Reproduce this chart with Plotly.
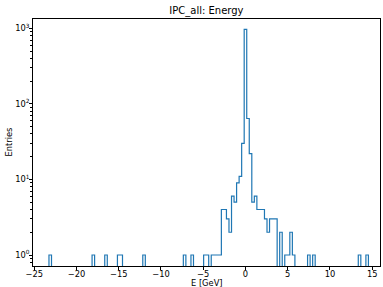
import plotly.graph_objects as go

# ---- data ----
bin_start = -23.25      # left edge of first bin [GeV]
bin_width = 0.3         # [GeV]
n_bins = 126
bin_index = [0, 17, 22, 27, 28, 37, 53, 56, 61, 62, 64, 65, 66, 67, 68, 69, 70, 71,
             72, 73, 74, 75, 76, 77, 78, 79, 80, 81, 82, 83, 84, 85, 86, 87, 88, 89,
             91, 93, 94, 95, 96, 102, 104, 122, 125]
bin_count = [1, 1, 1, 1, 1, 1, 1, 1, 1, 1, 1, 1, 1, 1, 4, 4, 3, 2,
             6, 5, 9, 11, 30, 967, 64, 22, 5, 6, 4, 4, 4, 3, 2, 3, 3, 3,
             2, 1, 1, 2, 1, 1, 1, 1, 1]

x_tick_vals = [-25, -20, -15, -10, -5, 0, 5, 10, 15]
x_tick_text = ["\u221225", "\u221220", "\u221215", "\u221210", "\u22125", "0", "5", "10", "15"]
y_tick_vals = [1, 10, 100, 1000]
y_tick_text = ["10<sup>0</sup>", "10<sup>1</sup>", "10<sup>2</sup>", "10<sup>3</sup>"]

# ---- build step outline ----
counts = [0] * n_bins
for i, c in zip(bin_index, bin_count):
    counts[i] = c
edges = [bin_start + k * bin_width for k in range(n_bins + 1)]
floor_val = 1e-3  # empty bins drop below the visible range (log axis)
ys_counts = [c if c > 0 else floor_val for c in counts]
xs = [edges[0]] + edges[:n_bins] + [edges[n_bins]]
ys = [floor_val] + ys_counts + [floor_val]

fig = go.Figure()
fig.add_trace(go.Scatter(x=xs, y=ys, mode="lines",
                         line=dict(shape="hv", color="#1f77b4", width=1.2),
                         hoverinfo="skip", showlegend=False))

font = "DejaVu Sans"
axis_common = dict(showline=True, linecolor="black", linewidth=0.8, mirror=True,
                   ticks="outside", ticklen=3, tickwidth=0.8, tickcolor="black",
                   showgrid=False, zeroline=False, automargin=False,
                   tickfont=dict(family=font, size=8.3, color="black"))

fig.update_layout(
    width=383, height=287,
    margin=dict(l=33, r=3, t=19, b=21),
    paper_bgcolor="white", plot_bgcolor="white",
    title=dict(text="IPC_all: Energy", x=0.539, xanchor="center", y=0.962, yanchor="middle",
               font=dict(family=font, size=10, color="black")),
    xaxis=dict(range=[-25.14, 15.92], tickmode="array", tickvals=x_tick_vals,
               ticktext=x_tick_text, ticklabelstandoff=-3, **axis_common),
    yaxis=dict(type="log", range=[-0.1456, 3.123], tickmode="array", tickvals=y_tick_vals,
               ticktext=y_tick_text, ticklabelstandoff=-2,
               minor=dict(ticks="outside", ticklen=1.8, tickwidth=0.6, tickcolor="black",
                          tickvals=[v * m for v in [1, 10, 100, 1000] for m in range(2, 10)] + [0.8, 0.9]),
               **axis_common),
    annotations=[
        dict(text="E [GeV]", xref="paper", yref="paper", x=0.5, y=0, xanchor="center",
             yanchor="middle", yshift=-17, showarrow=False,
             font=dict(family=font, size=8.3, color="black")),
        dict(text="Entries", xref="paper", yref="paper", x=0, y=0.5, xanchor="center",
             yanchor="middle", xshift=-25, textangle=-90, showarrow=False,
             font=dict(family=font, size=8.3, color="black")),
    ],
)

fig.write_html("out.html", config={"displayModeBar": False},
               post_script="document.body.style.margin='0';")
